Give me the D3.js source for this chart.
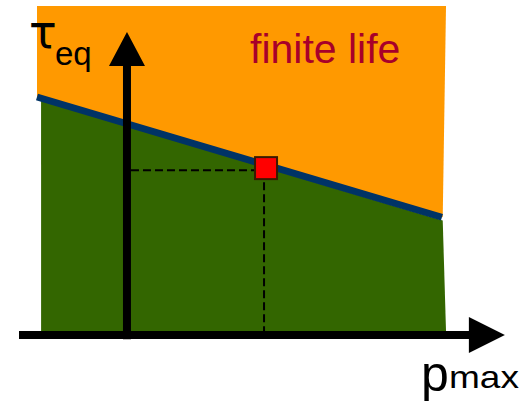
<!DOCTYPE html>
<html>
<head>
<meta charset="utf-8">
<script src="https://cdn.jsdelivr.net/npm/d3@7/dist/d3.min.js"></script>
<style>
  html, body { margin: 0; padding: 0; background: #ffffff; }
  svg { display: block; }
</style>
</head>
<body>
<script>
// ---- data (abstract units: p_max horizontally, tau_eq vertically) ----
const regionP = [0, 100];            // extent of the coloured region along p_max
const boundary = [                   // fatigue limit line (tau_eq vs p_max)
  { p: 0, t: 72 },
  { p: 99, t: 35 }
];
const infiniteRegion = [             // green area under the limit line
  { p: 1, t: 71 },
  { p: 99.2, t: 34 },
  { p: 100, t: 0 },
  { p: 1, t: 0 }
];
const finiteRegion = [               // orange area above the limit line
  { p: 0, t: 100 },
  { p: 100, t: 100 },
  { p: 99.2, t: 35 },
  { p: 0, t: 72 }
];
const loadPoint = { p: 56, t: 49.5 }; // operating point
const axisOrigin = { p: 22, t: -1.2 };
const axisExtent = { pMin: -4.4, pMax: 114.4, tMin: -2.5, tMax: 92 };
const labels = { region: "finite life", yMain: "τ", ySub: "eq", xMain: "p", xSub: "max" };

// ---- setup ----
const W = 531, H = 405;
const svg = d3.select("body").append("svg").attr("width", W).attr("height", H);

const x = d3.scaleLinear().domain(regionP).range([37, 446]);
const y = d3.scaleLinear().domain([0, 100]).range([331, 6]);

const poly = d3.line().x(d => x(d.p)).y(d => y(d.t));

// regions
svg.append("path").datum(finiteRegion)
  .attr("d", d => poly(d) + "Z").attr("fill", "#ff9900");
svg.append("path").datum(infiniteRegion)
  .attr("d", d => poly(d) + "Z").attr("fill", "#336600");

// limit line
svg.append("path").datum(boundary)
  .attr("d", poly).attr("fill", "none")
  .attr("stroke", "#003366").attr("stroke-width", 7);

// dashed guide lines
svg.append("line")
  .attr("x1", x(axisOrigin.p) + 4).attr("x2", x(loadPoint.p) - 2)
  .attr("y1", y(loadPoint.t)).attr("y2", y(loadPoint.t))
  .attr("stroke", "#000").attr("stroke-width", 2).attr("stroke-dasharray", "8,4");
svg.append("line")
  .attr("x1", x(loadPoint.p) - 2).attr("x2", x(loadPoint.p) - 2)
  .attr("y1", y(loadPoint.t)).attr("y2", y(axisOrigin.t) - 4)
  .attr("stroke", "#000").attr("stroke-width", 2).attr("stroke-dasharray", "8,4");

// axes
const ax = x(axisOrigin.p), ay = y(axisOrigin.t);
const xTip = x(axisExtent.pMax), yTip = y(axisExtent.tMax);
svg.append("line")
  .attr("x1", x(axisExtent.pMin)).attr("x2", xTip - 34)
  .attr("y1", ay).attr("y2", ay)
  .attr("stroke", "#000").attr("stroke-width", 8);
svg.append("path")
  .attr("d", `M${xTip},${ay} L${xTip - 36},${ay - 18} L${xTip - 36},${ay + 18} Z`)
  .attr("fill", "#000");
svg.append("line")
  .attr("x1", ax).attr("x2", ax)
  .attr("y1", y(axisExtent.tMin)).attr("y2", yTip + 32)
  .attr("stroke", "#000").attr("stroke-width", 8);
svg.append("path")
  .attr("d", `M${ax},${yTip} L${ax - 18},${yTip + 34} L${ax + 18},${yTip + 34} Z`)
  .attr("fill", "#000");

// operating point
svg.append("rect")
  .attr("x", x(loadPoint.p) - 11).attr("y", y(loadPoint.t) - 13)
  .attr("width", 22).attr("height", 22)
  .attr("fill", "#ff0000").attr("stroke", "#3a1a00").attr("stroke-width", 2);

// texts
svg.append("text").text(labels.region)
  .attr("x", 250).attr("y", 63)
  .attr("font-family", "Liberation Sans, Arial, sans-serif")
  .attr("font-size", 41).attr("fill", "#a8002a");

svg.append("text").text(labels.yMain)
  .attr("x", 29).attr("y", 48)
  .attr("font-family", "DejaVu Sans, sans-serif")
  .attr("font-size", 46).attr("fill", "#000");
svg.append("text").text(labels.ySub)
  .attr("x", 55).attr("y", 65)
  .attr("font-family", "Liberation Sans, Arial, sans-serif")
  .attr("font-size", 33).attr("fill", "#000");

svg.append("text").text(labels.xMain)
  .attr("x", 421).attr("y", 391)
  .attr("font-family", "Liberation Sans, Arial, sans-serif")
  .attr("font-size", 50).attr("fill", "#000");
svg.append("text").text(labels.xSub)
  .attr("x", 449).attr("y", 388)
  .attr("font-family", "Liberation Sans, Arial, sans-serif")
  .attr("font-size", 32).attr("fill", "#000")
  .attr("textLength", 70).attr("lengthAdjust", "spacingAndGlyphs");
</script>
</body>
</html>
